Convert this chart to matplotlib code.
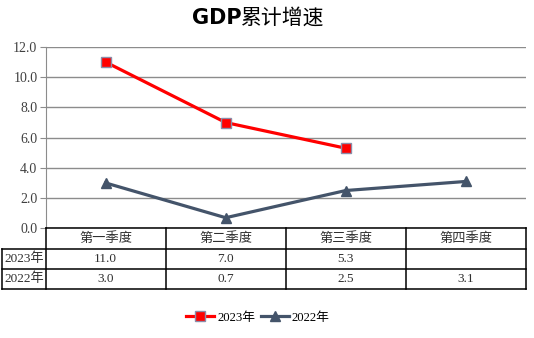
import matplotlib.pyplot as plt

# GDP cumulative growth by quarter
quarters = ['第一季度', '第二季度', '第三季度', '第四季度']
series_names = ['2023年', '2022年']
gdp_2023 = [11.0, 7.0, 5.3]
gdp_2022 = [3.0, 0.7, 2.5, 3.1]
y_ticks = [0, 2, 4, 6, 8, 10, 12]

plt.rcParams['font.family'] = ['Liberation Serif', 'Noto Sans CJK SC']

fig = plt.figure(figsize=(5.34, 3.38), dpi=100)

# main line chart
ax = fig.add_axes([45.7 / 534, 1 - 228.3 / 338, 480 / 534, 181.3 / 338])
ax.plot(range(len(gdp_2023)), gdp_2023, color='#ff0000', lw=2.3, marker='s', ms=7,
        mfc='#ff0000', mec='#8c8ca8', mew=1, label=series_names[0], zorder=3)
ax.plot(range(len(gdp_2022)), gdp_2022, color='#44546a', lw=2.3, marker='^', ms=7,
        mfc='#44546a', mec='#44546a', label=series_names[1], zorder=3)
ax.set_xlim(-0.5, len(quarters) - 0.5)
ax.set_ylim(y_ticks[0], y_ticks[-1])
ax.set_yticks(y_ticks)
ax.set_yticklabels([f'{v:.1f}' for v in y_ticks])
ax.set_xticks([])
ax.grid(axis='y', color='#8c8c8c', lw=1)
ax.set_axisbelow(True)
for side in ['top', 'right', 'bottom']:
    ax.spines[side].set_visible(False)
ax.spines['left'].set_color('#8c8c8c')
ax.tick_params(axis='y', direction='out', length=4, color='#8c8c8c',
               labelsize=10, labelcolor='#404040', pad=2)

# data table under the chart
label_w = (45.7 - 2.3) / 120
tab = fig.add_axes([2.3 / 534, 1 - 289.3 / 338, 523.4 / 534, 61 / 338])
tab.set_xlim(-0.5 - label_w, len(quarters) - 0.5)
tab.set_ylim(3, 0)
tab.axis('off')
lk = dict(color='black', lw=1.1, clip_on=False, solid_capstyle='projecting')
left = -0.5 - label_w
right = len(quarters) - 0.5
tab.plot([-0.5, right], [0, 0], **lk)
for r in (1, 2, 3):
    tab.plot([left, right], [r, r], **lk)
for c in range(len(quarters) + 1):
    tab.plot([c - 0.5, c - 0.5], [0, 3], **lk)
tab.plot([left, left], [1, 3], **lk)

tk = dict(ha='center', va='center', fontsize=9.5, color='#303030')
for i, q in enumerate(quarters):
    tab.text(i, 0.5, q, **tk)
for r, (name, vals) in enumerate(zip(series_names, [gdp_2023, gdp_2022]), start=1):
    tab.text(left + label_w / 2, r + 0.5, name, **tk)
    for i, v in enumerate(vals):
        tab.text(i, r + 0.5, f'{v:.1f}', **tk)

# title: bold latin part, lighter chinese part
fig.text(0.452, 0.948, 'GDP', ha='right', va='center', fontsize=15,
         fontweight='bold', family='DejaVu Sans')
fig.text(0.452, 0.948, '累计增速', ha='left', va='center', fontsize=15,
         fontweight='medium', family='Noto Sans CJK SC')

fig.legend(loc='center', bbox_to_anchor=(0.483, 0.06), ncol=2, frameon=False,
           fontsize=9.2, handlelength=2.2, handletextpad=0.25, columnspacing=0.4)

fig.savefig('out.png', dpi=100)
